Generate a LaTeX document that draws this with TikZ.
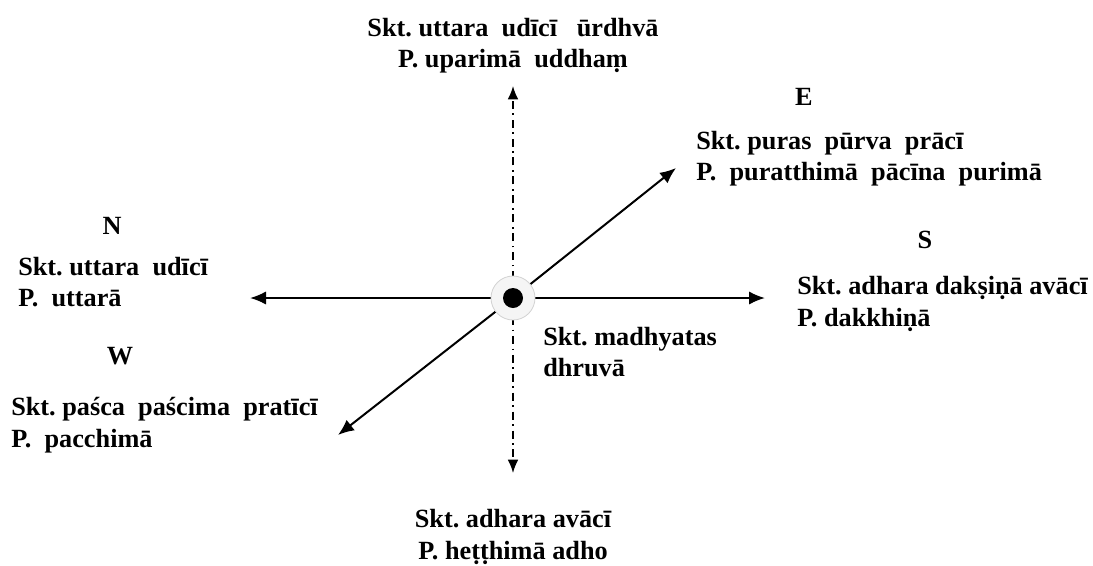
\documentclass[tikz,border=0pt]{standalone}
\usepackage{fontspec}
\setmainfont{Liberation Serif}
\usetikzlibrary{arrows.meta,calc}

\begin{document}
\begin{tikzpicture}[x=0.75pt,y=0.75pt,yscale=-1,xscale=1,
  lbl/.style={inner sep=0.75pt,font=\fontsize{19.7}{23.5}\selectfont\bfseries\frenchspacing},
  axis/.style={line width=1.5pt,-{Latex[length=12pt,width=10pt]}},
  vaxis/.style={line width=1.1pt,dash pattern={on 6pt off 3.5pt on 1.2pt off 3.5pt},-{Latex[length=10pt,width=8pt]}}]
\useasboundingbox (0,0) rectangle (1093,565);

% end points of the arrows
\coordinate (o) at (513,298);
\coordinate (tipN) at (250,298);
\coordinate (tipS) at (765,298);
\coordinate (tipE) at (676,168);
\coordinate (tipW) at (338,435);
\coordinate (tipUp) at (513,86);
\coordinate (tipDown) at (513,473);

% axes
\draw [axis] (o) -- (tipN);
\draw [axis] (o) -- (tipS);
\draw [axis] (o) -- (tipE);
\draw [axis] (o) -- (tipW);
\draw [vaxis] (o) -- (tipUp);
\draw [vaxis] (o) -- (tipDown);

% centre mark
\fill [gray!55] ($(o)+(1.8,2.2)$) circle (17);
\node (hub) [circle,minimum size=33pt,inner sep=0pt,fill=gray!8,draw=gray!35,line width=0.6pt] at (o) {};
\node (dot) [circle,minimum size=15pt,inner sep=0pt,fill=black] at (o) {};

% Text Node
\node (up) [lbl,align=center] at (513,46) {Skt. uttara\ \ udīcī\ \ \ ūrdhvā\\P. uparimā\ \ uddhaṃ};
% Text Node
\node (labE) [lbl] at (804,97) {E};
\node (east) [lbl,anchor=west,align=left] at (695,159) {Skt. puras\ \ pūrva\ \ prācī\\P.\ \ puratthimā\ \ pācīna\ \ purimā};
% Text Node
\node (labN) [lbl] at (112,226) {N};
\node (north) [lbl,anchor=west,align=left] at (17,282) {Skt. uttara\ \ udīcī\\P.\ \ uttarā};
% Text Node
\node (labW) [lbl] at (120,356) {W};
\node (west) [lbl,anchor=west,align=left] at (10,425) {Skt. paśca\ \ paścima\ \ pratīcī\\P.\ \ pacchimā};
% Text Node
\node (labS) [lbl] at (925,240) {S};
\node (south) [lbl,anchor=west,align=left] at (796,304) {Skt. adhara dakṣiṇā avācī\\P. dakkhiṇā};
% Text Node
\node (centre) [lbl,anchor=west,align=left] at (542,352) {Skt. madhyatas\\dhruvā};
% Text Node
\node (down) [lbl,align=center] at (513,537) {Skt. adhara avācī\\P. heṭṭhimā adho};

\end{tikzpicture}
\end{document}
